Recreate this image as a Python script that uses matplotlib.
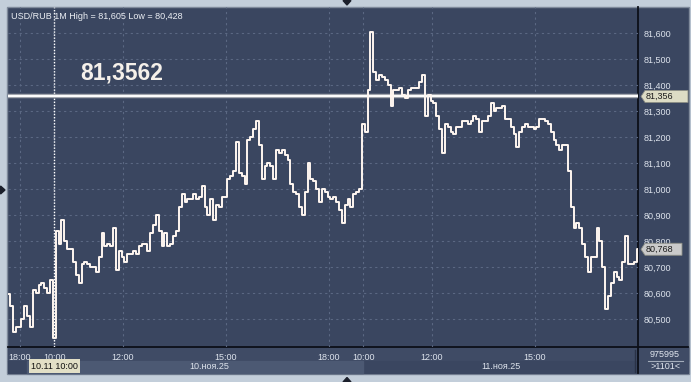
import numpy as np
import matplotlib
matplotlib.use('Agg')
import matplotlib.pyplot as plt
from matplotlib.patches import Rectangle, Polygon
from matplotlib.transforms import blended_transform_factory

plt.rcParams['font.family'] = ['Liberation Sans', 'DejaVu Sans']

# USD/RUB, 5-minute closes, trading-time hours (0 = 18:00 on 9 Nov, night gap removed)
start_hour = -1 / 3
step_hour = 5 / 60
prices = [
    80.595, 80.55, 80.45, 80.47, 80.47, 80.50, 80.55, 80.51, 80.47, 80.61,
    80.60, 80.63, 80.64, 80.62, 80.60, 80.65, 80.428, 80.84, 80.79, 80.88,
    80.80, 80.77, 80.77, 80.72, 80.67, 80.64, 80.71, 80.72, 80.71, 80.70,
    80.70, 80.68, 80.74, 80.83, 80.78, 80.79, 80.78, 80.85, 80.69, 80.76,
    80.74, 80.72, 80.75, 80.75, 80.76, 80.75, 80.78, 80.79, 80.79, 80.76,
    80.83, 80.86, 80.90, 80.84, 80.78, 80.83, 80.78, 80.79, 80.82, 80.84,
    80.93, 80.98, 80.95, 80.96, 80.96, 80.98, 80.96, 80.97, 81.01, 80.93,
    80.90, 80.96, 80.88, 80.94, 80.93, 80.97, 80.97, 81.04, 81.05, 81.07,
    81.18, 81.06, 81.05, 81.02, 81.19, 81.20, 81.23, 81.26, 81.17, 81.04,
    81.09, 81.10, 81.09, 81.04, 81.15, 81.14, 81.15, 81.13, 81.11, 81.02,
    80.99, 80.98, 80.93, 80.90, 80.99, 81.10, 81.04, 81.03, 81.00, 80.95,
    81.00, 80.99, 80.97, 80.96, 80.97, 80.95, 80.92, 80.87, 80.94, 80.96,
    80.93, 80.98, 80.99, 81.00, 81.25, 81.22, 81.38, 81.605, 81.45, 81.42,
    81.44, 81.43, 81.42, 81.40, 81.32, 81.38, 81.38, 81.39, 81.36, 81.35,
    81.38, 81.39, 81.39, 81.39, 81.41, 81.44, 81.28, 81.36, 81.34, 81.33,
    81.28, 81.23, 81.14, 81.25, 81.24, 81.22, 81.21, 81.24, 81.24, 81.26,
    81.26, 81.25, 81.26, 81.28, 81.27, 81.22, 81.26, 81.26, 81.28, 81.33,
    81.30, 81.31, 81.31, 81.32, 81.27, 81.27, 81.24, 81.21, 81.16, 81.22,
    81.24, 81.25, 81.24, 81.24, 81.23, 81.24, 81.27, 81.27, 81.26, 81.25,
    81.22, 81.19, 81.17, 81.15, 81.17, 81.17, 81.07, 80.93, 80.85, 80.87,
    80.85, 80.79, 80.74, 80.68, 80.74, 80.74, 80.85, 80.80, 80.70, 80.54,
    80.59, 80.64, 80.68, 80.66, 80.65, 80.72, 80.82, 80.71, 80.71, 80.72,
    80.768,
]
times = start_hour + step_hour * np.arange(len(prices))

time_ticks = [0, 1, 3, 6, 9, 10, 12, 15]
time_labels = ['18:00', '10:00', '12:00', '15:00', '18:00', '10:00', '12:00', '15:00']
price_ticks = [80.5, 80.6, 80.7, 80.8, 80.9, 81.0, 81.1, 81.2, 81.3, 81.4, 81.5, 81.6]
day_labels = ['10.ноя.25', '11.ноя.25']
day_starts = [1, 10]
day_ends = [10, 18]
cursor_hour = 1
cursor_label = '10.11 10:00'
last_price = 81.356
last_price_text = '81,3562'
symbol = 'USD/RUB'
period = '1M'
footer_top = '975995'
footer_bottom = '>1101<'


def fmt(v, n=3):
    return f'{v:.{n}f}'.replace('.', ',')


W, H = 691, 382
fig = plt.figure(figsize=(W / 100, H / 100), dpi=100)

# frame drawn in pixel coords
bg = fig.add_axes([0, 0, 1, 1])
bg.set_xlim(0, W)
bg.set_ylim(H, 0)
bg.axis('off')
bg.add_patch(Rectangle((0, 0), W, H, color='#c3ceda'))
bg.add_patch(Rectangle((7, 6.5), 682, 367.5, fc='#3a4660', ec='#7f8a9b', lw=1))
grad = np.linspace(0, 1, 200)[:, None]
top_c = np.array([0x42, 0x51, 0x6e]) / 255
bot_c = np.array([0x2d, 0x38, 0x55]) / 255
img = top_c[None, None, :] * (1 - grad[..., None]) + bot_c[None, None, :] * grad[..., None]
bg.imshow(img, extent=(8, 688, 347, 7), aspect='auto', interpolation='bilinear')
bg.add_patch(Rectangle((8, 347), 680, 14, color='#3f4b65'))
bg.add_patch(Rectangle((8, 361), 630, 12, color='#3a4660'))
bg.add_patch(Rectangle((27, 361), 336, 12, color='#4c5973'))
bg.add_patch(Rectangle((638, 347), 50, 26, color='#3f4b65'))
bg.plot([8, 688], [347, 347], color='#0c0f18', lw=1.3)
bg.plot([638.5, 638.5], [7, 373], color='#0c0f18', lw=1.3)
bg.plot([635.5, 635.5], [350, 372], color='#2a3247', lw=1)
bg.plot([648, 683], [360.7, 360.7], color='#a4adbb', lw=0.8)
bg.text(665, 354.5, footer_top, fontsize=6.5, color='#e2e7ef', ha='center', va='center')
bg.text(666, 366.5, footer_bottom, fontsize=6.5, color='#e2e7ef', ha='center', va='center')
bg.add_patch(Polygon([(343, 0.5), (351, 0.5), (347, 5)], color='#1b1f2b'))
bg.add_patch(Polygon([(343, 382), (351, 382), (347, 377.5)], color='#1b1f2b'))
bg.add_patch(Polygon([(0.5, 186), (0.5, 194), (5, 190)], color='#1b1f2b'))

# chart
ax = fig.add_axes([8 / W, 35 / H, 630 / W, 340 / H])
ax.patch.set_alpha(0)
ax.set_xlim(-0.3495, 18.0)
ax.set_ylim(80.392, 81.7)
for s in ax.spines.values():
    s.set_visible(False)
ax.grid(True, color='#5b6883', ls=(0, (2, 3)), lw=0.8)
ax.set_axisbelow(True)

ax.set_xticks(time_ticks)
ax.set_xticklabels(time_labels)
ax.set_yticks(price_ticks)
ax.set_yticklabels([fmt(v) for v in price_ticks])
ax.yaxis.tick_right()
ax.tick_params(axis='y', length=0, pad=4, labelsize=6.5, labelcolor='#dde3ec')
ax.tick_params(axis='x', length=0, pad=4, labelsize=6.5, labelcolor='#dde3ec')

ax.axvline(cursor_hour, color='white', ls=(0, (1, 1.2)), lw=1)
ax.axhline(last_price, color='#a2a6ae', lw=3.2)
ax.axhline(last_price, color='white', lw=1.4)
ax.plot(times, prices, color='#fff6f0', lw=1.4, drawstyle='steps-mid')

tr_x = blended_transform_factory(ax.transData, ax.transAxes)
for lab, a, b in zip(day_labels, day_starts, day_ends):
    ax.text((a + b) / 2, -0.056, lab, transform=tr_x, fontsize=6.5, color='#dde3ec',
            ha='center', va='center', clip_on=False)
ax.text(cursor_hour, -0.056, cursor_label, transform=tr_x, fontsize=6.5, color='#111111',
        ha='center', va='center', clip_on=False,
        bbox=dict(boxstyle='square,pad=0.25', fc='#e2dfc6', ec='none'))

ax.text(0.004, 0.973, f'{symbol} {period} High = {fmt(max(prices))} Low = {fmt(min(prices))}',
        transform=ax.transAxes, fontsize=6.5, color='#eceff4', ha='left', va='center')
ax.text(0.115, 0.807, last_price_text, transform=ax.transAxes, fontsize=16.5,
        fontweight='bold', color='#f5f0ea', ha='left', va='center')

# price tags on the right scale (drawn over the tick labels)
tr_y = blended_transform_factory(ax.transAxes, ax.transData)
ppx = (81.7 - 80.392) / 340
apx = 1 / 630


def price_tag(price, fc, right):
    x0 = 1 + 3 * apx
    x1 = 1 + right * apx
    poly = [(x0, price), (x0 + 4 * apx, price + 6 * ppx), (x1, price + 6 * ppx),
            (x1, price - 6 * ppx), (x0 + 4 * apx, price - 6 * ppx)]
    ax.add_patch(Polygon(poly, closed=True, transform=tr_y, fc=fc, ec='#8d8f86',
                         lw=0.6, clip_on=False, zorder=6))
    ax.text(x0 + 4.5 * apx, price, fmt(price), transform=tr_y, fontsize=6.5,
            color='#1c1c1c', ha='left', va='center', clip_on=False, zorder=7)


price_tag(last_price, '#dddcc5', 50)
price_tag(prices[-1], '#cacaca', 44)

plt.savefig('out.png', dpi=100)
